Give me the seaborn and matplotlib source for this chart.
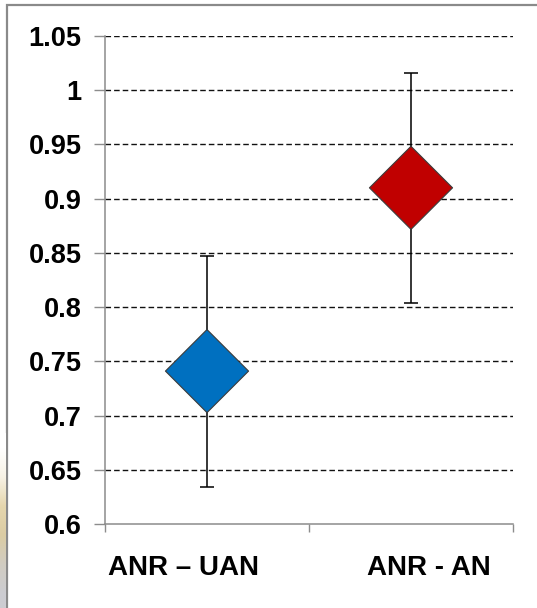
import numpy as np
import pandas as pd
import matplotlib
matplotlib.use("Agg")
import matplotlib.pyplot as plt
import matplotlib.transforms as mtransforms
from matplotlib.patches import Rectangle
import seaborn as sns

# ---- data ----
categories = ["ANR \u2013 UAN", "ANR - AN"]
means = [0.741, 0.910]
lower = [0.634, 0.804]
upper = [0.847, 1.016]
colors = ["#0070C0", "#C00000"]
yticks = [0.6, 0.65, 0.7, 0.75, 0.8, 0.85, 0.9, 0.95, 1.0, 1.05]
ytick_labels = ["0.6", "0.65", "0.7", "0.75", "0.8", "0.85", "0.9", "0.95", "1", "1.05"]

sns.set_theme(style="white")
plt.rcParams["font.family"] = ["Liberation Sans", "DejaVu Sans"]

W, H = 537, 608
fig = plt.figure(figsize=(W / 100, H / 100), dpi=100)
fig.patch.set_facecolor("white")

# axes placement (pixels)
left, right, top, bottom = 105, 513, 36, 524
ax = fig.add_axes([left / W, 1 - bottom / H, (right - left) / W, (bottom - top) / H])
ax.set_facecolor("white")

df = pd.DataFrame({"cat": categories, "mean": means, "lo": lower, "hi": upper})
df["x"] = np.arange(len(df))

# error bars
ax.errorbar(df["x"], df["mean"],
            yerr=[df["mean"] - df["lo"], df["hi"] - df["mean"]],
            fmt="none", ecolor="black", elinewidth=1.1, capsize=4.7,
            capthick=1.1, zorder=2)

sns.scatterplot(data=df, x="x", y="mean", hue="cat", palette=colors,
                marker="D", s=1790, edgecolor="#3a3a3a", linewidth=0.8,
                legend=False, ax=ax, zorder=3)

ax.set_xlim(-0.5, 1.5)
ax.set_ylim(0.6, 1.05)
ax.set_yticks(yticks)
ax.set_yticklabels(ytick_labels)
ax.set_xticks([0, 1])
ax.set_xticklabels(categories)
ax.set_xticks([-0.5, 0.5, 1.5], minor=True)
ax.set_xlabel("")
ax.set_ylabel("")

# gridlines
for yv in yticks[1:]:
    ax.axhline(yv, color="#111111", linewidth=1.0, linestyle=(0, (4, 2.2)), zorder=1)

for sp in ["top", "right"]:
    ax.spines[sp].set_visible(False)
for sp in ["left", "bottom"]:
    ax.spines[sp].set_color("#8c8c8c")
    ax.spines[sp].set_linewidth(1.1)

ax.tick_params(axis="y", which="major", left=True, length=8, width=1.0,
               color="#8c8c8c", pad=9, labelsize=19.5)
ax.tick_params(axis="x", which="major", bottom=False, length=0, pad=22, labelsize=20)
ax.tick_params(axis="x", which="minor", bottom=True, length=6, width=1.0,
               color="#8c8c8c")
for lab in ax.get_yticklabels():
    lab.set_fontweight("bold")
    lab.set_color("black")
for lab, dx in zip(ax.get_xticklabels(), [-23, 18]):
    lab.set_fontweight("bold")
    lab.set_color("black")
    lab.set_transform(lab.get_transform() +
                      mtransforms.ScaledTranslation(dx / 100, 0, fig.dpi_scale_trans))

# outer frame of the picture
frame = Rectangle((6.5 / W, -0.05), 1.2, 1 - 5 / H + 0.05, transform=fig.transFigure,
                  fill=False, edgecolor="#8a8a8a", linewidth=1.6, zorder=0)
fig.add_artist(frame)

# faint decoration at the lower left edge
gax = fig.add_axes([0, 0, 5.5 / W, 175 / H])
grad_colors = np.array([
    [0.80, 0.80, 0.82],
    [0.82, 0.80, 0.76],
    [0.86, 0.80, 0.64],
    [0.90, 0.84, 0.68],
    [0.97, 0.95, 0.90],
    [1.0, 1.0, 1.0],
])
gax.imshow(grad_colors[:, None, :], aspect="auto", origin="lower",
           interpolation="bilinear", extent=[0, 1, 0, 1])
gax.axis("off")

fig.savefig("out.png", dpi=100)
